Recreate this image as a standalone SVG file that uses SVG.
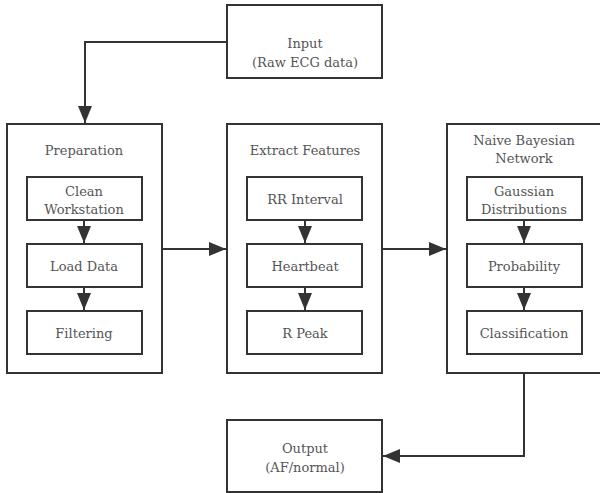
<svg xmlns="http://www.w3.org/2000/svg" width="600" height="493" viewBox="0 0 600 493">
<defs>
<marker id="ah" viewBox="0 0 17 14" refX="17" refY="7" markerWidth="17" markerHeight="14" orient="auto" markerUnits="userSpaceOnUse">
<path d="M0,0 L17,7 L0,14 Z" fill="#333"/>
</marker>
<style>
rect{fill:#fff;stroke:#333;stroke-width:2}
text{font-family:'DejaVu Serif',serif;font-size:13px;fill:#555;text-anchor:middle}
.c{fill:none;stroke:#333;stroke-width:2;marker-end:url(#ah)}
</style>
</defs>
<rect x="0" y="0" width="600" height="493" style="stroke:none;fill:#fff"/>
<g id="input"><rect x="227" y="5" width="155" height="73"/><text x="305" y="48">Input</text><text x="305" y="67">(Raw ECG data)</text></g>
<g id="preparation"><rect x="7" y="124" width="155" height="249"/><text x="84" y="155">Preparation</text></g>
<g id="clean"><rect x="27" y="177" width="115" height="43"/><text x="84" y="196">Clean</text><text x="84" y="214">Workstation</text></g>
<g id="load"><rect x="27" y="244" width="115" height="43"/><text x="84" y="271">Load Data</text></g>
<g id="filtering"><rect x="27" y="311" width="115" height="43"/><text x="84" y="338">Filtering</text></g>
<g id="extract"><rect x="227" y="124" width="155" height="249"/><text x="305" y="155">Extract Features</text></g>
<g id="rr"><rect x="247" y="177" width="115" height="43"/><text x="305" y="204">RR Interval</text></g>
<g id="heartbeat"><rect x="247" y="244" width="115" height="43"/><text x="305" y="271">Heartbeat</text></g>
<g id="rpeak"><rect x="247" y="311" width="115" height="43"/><text x="305" y="338">R Peak</text></g>
<g id="nbn"><rect x="447" y="124" width="156" height="249"/><text x="524" y="145">Naive Bayesian</text><text x="524" y="163">Network</text></g>
<g id="gaussian"><rect x="467" y="177" width="115" height="43"/><text x="524" y="196">Gaussian</text><text x="524" y="214">Distributions</text></g>
<g id="probability"><rect x="467" y="244" width="115" height="43"/><text x="524" y="271">Probability</text></g>
<g id="classification"><rect x="467" y="311" width="115" height="43"/><text x="524" y="338">Classification</text></g>
<g id="output"><rect x="227" y="420" width="155" height="72"/><text x="305" y="453">Output</text><text x="305" y="472">(AF/normal)</text></g>
<g id="connectors">
<path class="c" d="M227,42 H85 V123"/>
<path class="c" d="M84,221 V243"/>
<path class="c" d="M84,288 V310"/>
<path class="c" d="M162,249 H226"/>
<path class="c" d="M305,221 V243"/>
<path class="c" d="M305,288 V310"/>
<path class="c" d="M382,249 H446"/>
<path class="c" d="M524,221 V243"/>
<path class="c" d="M524,288 V310"/>
<path class="c" d="M524,373 V456 H383"/>
</g>
</svg>
